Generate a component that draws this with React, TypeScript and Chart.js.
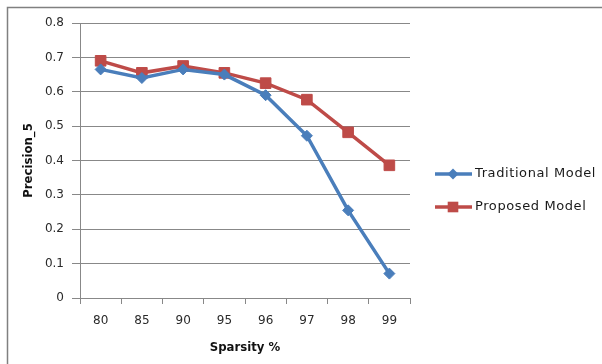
import React, { useEffect, useRef } from "react";
import { Chart, registerables } from "chart.js";

Chart.register(...registerables);

const categories = ["80", "85", "90", "95", "96", "97", "98", "99"];
const traditional = [0.665, 0.64, 0.665, 0.65, 0.59, 0.472, 0.255, 0.071];
const proposed = [0.69, 0.655, 0.675, 0.655, 0.625, 0.577, 0.482, 0.386];
const seriesNames = ["Traditional Model", "Proposed Model"];
const yTitle = "Precision_5";
const xTitle = "Sparsity %";

const BLUE = "#4A7EBB";
const RED = "#BE4B48";
const GRID = "#888888";

const framePlugin = {
  id: "frame",
  beforeDraw(chart: any) {
    const ctx = chart.ctx;
    ctx.save();
    ctx.fillStyle = "#ffffff";
    ctx.fillRect(0, 0, chart.width, chart.height);
    ctx.strokeStyle = "#808080";
    ctx.lineWidth = 1.5;
    ctx.beginPath();
    ctx.moveTo(7.5, chart.height);
    ctx.lineTo(7.5, 7.5);
    ctx.lineTo(chart.width, 7.5);
    ctx.stroke();
    ctx.restore();
  },
};

const legendPlugin = {
  id: "customLegend",
  afterDraw(chart: any) {
    const ctx = chart.ctx;
    const ys = [174, 207];
    chart.data.datasets.forEach((ds: any, i: number) => {
      const y = ys[i];
      ctx.save();
      ctx.strokeStyle = ds.borderColor;
      ctx.lineWidth = 3.5;
      ctx.beginPath();
      ctx.moveTo(435, y);
      ctx.lineTo(472, y);
      ctx.stroke();
      ctx.fillStyle = ds.borderColor;
      ctx.beginPath();
      if (ds.pointStyle === "rect") {
        const s = ds.pointRadius * Math.SQRT1_2;
        ctx.fillRect(453 - s, y - s, 2 * s, 2 * s);
      } else {
        const r = ds.pointRadius;
        ctx.moveTo(453, y - r);
        ctx.lineTo(453 + r, y);
        ctx.lineTo(453, y + r);
        ctx.lineTo(453 - r, y);
        ctx.closePath();
        ctx.fill();
      }
      ctx.fillStyle = "#1a1a1a";
      ctx.font = "13px 'DejaVu Sans'";
      (ctx as any).letterSpacing = "0.6px";
      ctx.textAlign = "left";
      ctx.textBaseline = "middle";
      ctx.fillText(ds.label, 475, y);
      ctx.restore();
    });
  },
};

export default function App() {
  const ref = useRef<HTMLCanvasElement | null>(null);

  useEffect(() => {
    document.body.style.margin = "0";
    const canvas = ref.current!;
    const chart = new Chart(canvas, {
      type: "line",
      data: {
        labels: categories,
        datasets: [
          {
            label: seriesNames[0],
            data: traditional,
            borderColor: BLUE,
            backgroundColor: BLUE,
            borderWidth: 3.5,
            pointStyle: "rectRot",
            pointRadius: 5.5,
            pointBorderWidth: 1,
            pointBackgroundColor: BLUE,
            pointBorderColor: BLUE,
            tension: 0,
          },
          {
            label: seriesNames[1],
            data: proposed,
            borderColor: RED,
            backgroundColor: RED,
            borderWidth: 3.5,
            pointStyle: "rect",
            pointRadius: 7.5,
            pointBorderWidth: 1,
            pointBackgroundColor: RED,
            pointBorderColor: RED,
            tension: 0,
          },
        ],
      },
      options: {
        responsive: false,
        animation: false,
        devicePixelRatio: 1,
        layout: { padding: { left: 8, top: 23, right: 192, bottom: 0 } },
        plugins: {
          legend: { display: false },
          tooltip: { enabled: false },
        },
        scales: {
          x: {
            offset: true,
            grid: {
              offset: true,
              drawOnChartArea: false,
              drawTicks: true,
              tickLength: 6,
              color: GRID,
            },
            border: { color: GRID, width: 1 },
            ticks: {
              color: "#2a2a2a",
              font: { family: "'DejaVu Sans'", size: 12 },
              padding: 10,
              maxRotation: 0,
            },
            title: {
              display: true,
              text: xTitle,
              color: "#111111",
              font: { family: "'DejaVu Sans Condensed', 'DejaVu Sans'", size: 13, weight: "bold" },
              padding: { top: 0, bottom: 9 },
            },
            afterFit(scale: any) {
              scale.height = 66;
            },
          },
          y: {
            min: 0,
            max: 0.8,
            ticks: {
              stepSize: 0.1,
              color: "#2a2a2a",
              font: { family: "'DejaVu Sans'", size: 12 },
              padding: 8,
              callback: (v: any) => (Number(v) === 0 ? "0" : Number(v).toFixed(1)),
            },
            grid: {
              color: GRID,
              tickLength: 8,
              drawTicks: true,
            },
            border: { color: GRID, width: 1 },
            title: {
              display: true,
              text: yTitle,
              color: "#111111",
              font: { family: "'DejaVu Sans Condensed', 'DejaVu Sans'", size: 13, weight: "bold" },
              padding: { top: 13, bottom: 0 },
            },
            afterFit(scale: any) {
              scale.width = 72;
            },
          },
        },
      },
      plugins: [framePlugin, legendPlugin],
    } as any);
    return () => chart.destroy();
  }, []);

  return <canvas ref={ref} width={602} height={364} style={{ display: "block", width: 602, height: 364 }} />;
}
